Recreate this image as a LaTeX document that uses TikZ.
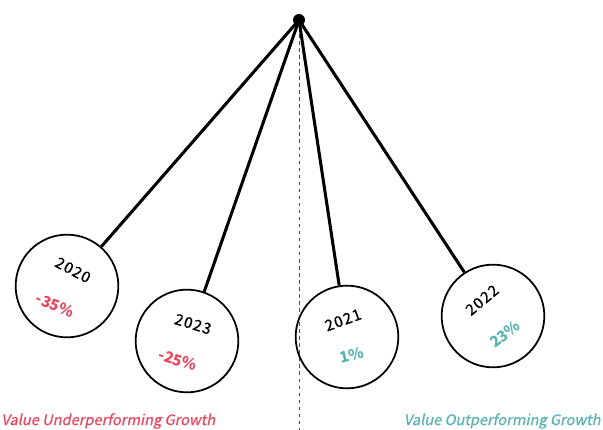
\documentclass[tikz,border=0pt]{standalone}
\usepackage{fontspec}
\setmainfont{Noto Sans CJK KR}
\newfontfamily\slantfont[FakeSlant=0.2, FakeBold=0.6]{Noto Sans CJK KR}
\newfontfamily\spacedfont[LetterSpace=8, FakeBold=1]{Noto Sans CJK KR}
\usetikzlibrary{calc}
\definecolor{lossred}{HTML}{E8495F}
\definecolor{gainteal}{HTML}{5AB3B3}

\begin{document}
\begin{tikzpicture}[x=0.03cm, y=-0.03cm,
  bob/.style={circle, draw=black, line width=1.5pt, minimum size=3.08cm, inner sep=0pt},
  rope/.style={line width=2.6pt, black},
  knot/.style={circle, fill=black, minimum size=0.36cm, inner sep=0pt},
  guide/.style={black!70, dashed, line width=0.5pt},
  yr/.style={font=\spacedfont\fontsize{13}{15}\selectfont, inner sep=0pt},
  loss/.style={font=\bfseries\fontsize{13}{15}\selectfont, text=lossred, inner sep=0pt},
  gain/.style={font=\bfseries\fontsize{13}{15}\selectfont, text=gainteal, inner sep=0pt},
  side/.style={font=\slantfont\fontsize{12.5}{15}\selectfont, inner sep=1pt}]
\useasboundingbox (0,0) rectangle (603,430);
\coordinate (pivot) at (299,20);
\coordinate (floor) at (299,430);
\draw[guide] (pivot) -- (floor);
% the four years, hanging from one point
\node[bob] (b2020) at (67,286) {};
\node[bob] (b2023) at (187,341) {};
\node[bob] (b2021) at (347,337) {};
\node[bob] (b2022) at (493,316) {};
\draw[rope] (pivot) -- (b2020); \draw[rope] (pivot) -- (b2023);
\draw[rope] (pivot) -- (b2021); \draw[rope] (pivot) -- (b2022);
\node[knot] (top) at (pivot) {};
\node[yr, rotate=-28] (y2020) at (73,270) {2020};
\node[loss, rotate=-22] (p2020) at (55,305) {-35\%};
\node[yr, rotate=-17] (y2023) at (193,324) {2023};
\node[loss, rotate=-17] (p2023) at (178,360) {-25\%};
\node[yr, rotate=20] (y2021) at (343,320) {2021};
\node[gain, rotate=15] (p2021) at (352,355) {1\%};
\node[yr, rotate=40] (y2022) at (482,300) {2022};
\node[gain, rotate=38] (p2022) at (505,334) {23\%};
\node[side, text=lossred, anchor=west] (under) at (0,421) {Value Underperforming Growth};
\node[side, text=gainteal, anchor=east] (over) at (602,421) {Value Outperforming Growth};
\end{tikzpicture}
\end{document}
